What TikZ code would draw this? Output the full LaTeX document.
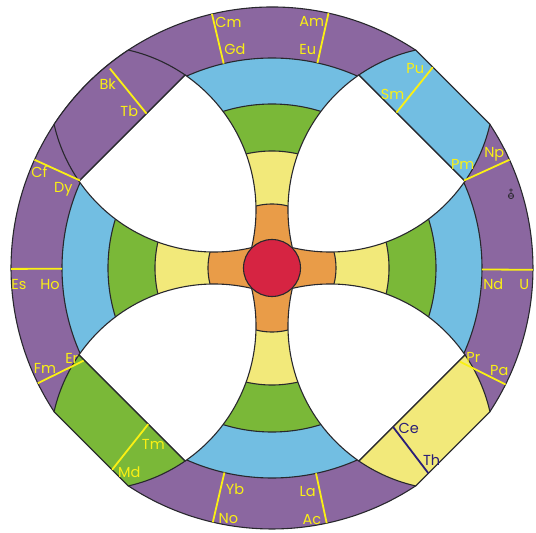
\documentclass[tikz,border=0pt]{standalone}
\usepackage{fontspec}
\setmainfont{Poppins}
\definecolor{shellpurple}{RGB}{139,103,160}
\definecolor{shellblue}{RGB}{114,190,226}
\definecolor{shellgreen}{RGB}{122,184,56}
\definecolor{shellyellow}{RGB}{242,233,122}
\definecolor{shellorange}{RGB}{233,156,72}
\definecolor{shellred}{RGB}{214,36,66}
\definecolor{labelyellow}{RGB}{250,240,20}
\definecolor{labelnavy}{RGB}{42,30,120}
\definecolor{edge}{RGB}{40,40,45}

\begin{document}
\begin{tikzpicture}[x=1pt,y=1pt,
    rim/.style={draw=edge,line width=1.1pt},
    sep/.style={draw=labelyellow,line width=1.8pt},
    lab/.style={text=labelyellow,font=\fontsize{14.5}{14.5}\selectfont,inner sep=0pt,text height=10pt,text depth=0pt}]
  \pgfmathsetmacro{\Radius}{261};
  \pgfmathsetmacro{\Inner}{198};
  \pgfmathsetmacro{\Flat}{255.66};
  \pgfmathsetmacro{\Bow}{164};
  %
  \coordinate (O) at (0,0);
  \useasboundingbox (-272,-265) rectangle (264,268);
  % outer shell, cut flat at three diagonals
  \filldraw[rim,fill=shellpurple] (56.61:\Radius) arc[start angle=56.61,end angle=213.39,radius=\Radius]
    -- (236.61:\Radius) arc[start angle=236.61,end angle=303.39,radius=\Radius]
    -- (326.61:\Radius) arc[start angle=326.61,end angle=393.39,radius=\Radius] -- cycle;
  % inner shells
  \filldraw[rim,fill=shellblue] (O) circle (210);
  \filldraw[rim,fill=shellgreen] (O) circle (164);
  \filldraw[rim,fill=shellyellow] (O) circle (117);
  \filldraw[rim,fill=shellorange] (O) circle (64);
  % white gaps between the arms, blocks behind them
  \begin{scope}[rotate=0]
    \filldraw[rim,fill=white] (-20.38,20.38) arc[start angle=-13.26,end angle=55.43,radius=\Bow]
      -- (-193.05,86.95) arc[start angle=214.57,end angle=283.26,radius=\Bow] -- cycle;
    \filldraw[rim,fill=shellpurple] (-86.95,193.05) arc[start angle=55.43,end angle=77.19,radius=\Bow]
      arc[start angle=123.39,end angle=146.61,radius=\Radius]
      arc[start angle=192.81,end angle=214.57,radius=\Bow] -- cycle;
  \end{scope}
  \begin{scope}[rotate=-90]
    \filldraw[rim,fill=white] (-20.38,20.38) arc[start angle=-13.26,end angle=55.43,radius=\Bow]
      -- (-193.05,86.95) arc[start angle=214.57,end angle=283.26,radius=\Bow] -- cycle;
    \filldraw[rim,fill=shellblue] (-86.95,193.05) arc[start angle=55.43,end angle=77.19,radius=\Bow]
      -- (-217.92,143.64) arc[start angle=192.81,end angle=214.57,radius=\Bow] -- cycle;
  \end{scope}
  \begin{scope}[rotate=180]
    \filldraw[rim,fill=white] (-20.38,20.38) arc[start angle=-13.26,end angle=55.43,radius=\Bow]
      -- (-193.05,86.95) arc[start angle=214.57,end angle=283.26,radius=\Bow] -- cycle;
    \filldraw[rim,fill=shellyellow] (-86.95,193.05) arc[start angle=55.43,end angle=77.19,radius=\Bow]
      -- (-217.92,143.64) arc[start angle=192.81,end angle=214.57,radius=\Bow] -- cycle;
  \end{scope}
  \begin{scope}[rotate=90]
    \filldraw[rim,fill=white] (-20.38,20.38) arc[start angle=-13.26,end angle=55.43,radius=\Bow]
      -- (-193.05,86.95) arc[start angle=214.57,end angle=283.26,radius=\Bow] -- cycle;
    \filldraw[rim,fill=shellgreen] (-86.95,193.05) arc[start angle=55.43,end angle=77.19,radius=\Bow]
      -- (-217.92,143.64) arc[start angle=192.81,end angle=214.57,radius=\Bow] -- cycle;
  \end{scope}
  % core
  \filldraw[rim,fill=shellred] (O) circle (28.5);
  % separators in the outer shell
  \draw[sep] (103.3:210) -- (103.3:\Radius);
  \draw[sep] (77.5:210) -- (77.5:\Radius);
  \draw[sep] (155.5:211) -- (155.5:\Radius);
  \draw[sep] (180.2:210) -- (180.2:\Radius);
  \draw[sep] (206.2:210) -- (206.2:\Radius);
  \draw[sep] (256.9:210) -- (256.9:\Radius);
  \draw[sep] (282.1:210) -- (282.1:\Radius);
  \draw[sep] (333.5:210) -- (333.5:\Radius);
  \draw[sep] (359.6:210) -- (359.6:\Radius);
  \draw[sep] (24.5:211) -- (24.5:\Radius);
  % separators in the blocks
  \draw[sep] (129.1:{\Inner/cos(5.9)}) -- (129.1:{\Flat/cos(5.9)});
  \draw[sep] (51.3:{\Inner/cos(6.3)}) -- (51.3:{\Flat/cos(6.3)});
  \draw[sep] (231.6:{\Inner/cos(6.6)}) -- (231.6:{\Flat/cos(6.6)});
  \draw[sep,draw=labelnavy] (307.3:{\Inner/cos(7.7)}) -- (307.3:{\Flat/cos(7.7)});
  % labels
  \node[lab] (cm) at (-43.5,245) {Cm};
  \node[lab] (gd) at (-37,218) {Gd};
  \node[lab] (am) at (39.7,246.3) {Am};
  \node[lab] (eu) at (35.7,218) {Eu};
  \node[lab] (bk) at (-164.3,183) {Bk};
  \node[lab] (tb) at (-142.7,156.3) {Tb};
  \node[lab] (cf) at (-232.7,95.3) {Cf};
  \node[lab] (dy) at (-208.7,80.3) {Dy};
  \node[lab] (es) at (-253,-16) {Es};
  \node[lab] (ho) at (-222,-16) {Ho};
  \node[lab] (fm) at (-227,-100) {Fm};
  \node[lab] (er) at (-200.3,-90) {Er};
  \node[lab] (tm) at (-118.7,-176) {Tm};
  \node[lab] (md) at (-142.7,-204.3) {Md};
  \node[lab] (yb) at (-37,-221.7) {Yb};
  \node[lab] (no) at (-43.7,-250) {No};
  \node[lab] (la) at (35.7,-223.3) {La};
  \node[lab] (ac) at (40,-251.7) {Ac};
  \node[lab,text=labelnavy] (ce) at (136.7,-160.7) {Ce};
  \node[lab,text=labelnavy] (th) at (159.7,-192.3) {Th};
  \node[lab] (pr) at (201.3,-89.3) {Pr};
  \node[lab] (pa) at (227.3,-102.3) {Pa};
  \node[lab] (nd) at (221.3,-16.3) {Nd};
  \node[lab] (u) at (252.3,-16) {U};
  \node[lab] (np) at (222.3,115.3) {Np};
  \node[lab] (pm) at (190.7,103.7) {Pm};
  \node[lab] (pu) at (143.3,199.7) {Pu};
  \node[lab] (sm) at (120.7,173) {Sm};
  % small mark
  \draw[edge,line width=0.8pt] (239,72) circle (2.6) (236.4,72) -- (241.6,72)
    (239,74.6) -- (239,79.5) (237.2,78) -- (240.8,78);
\end{tikzpicture}
\end{document}
